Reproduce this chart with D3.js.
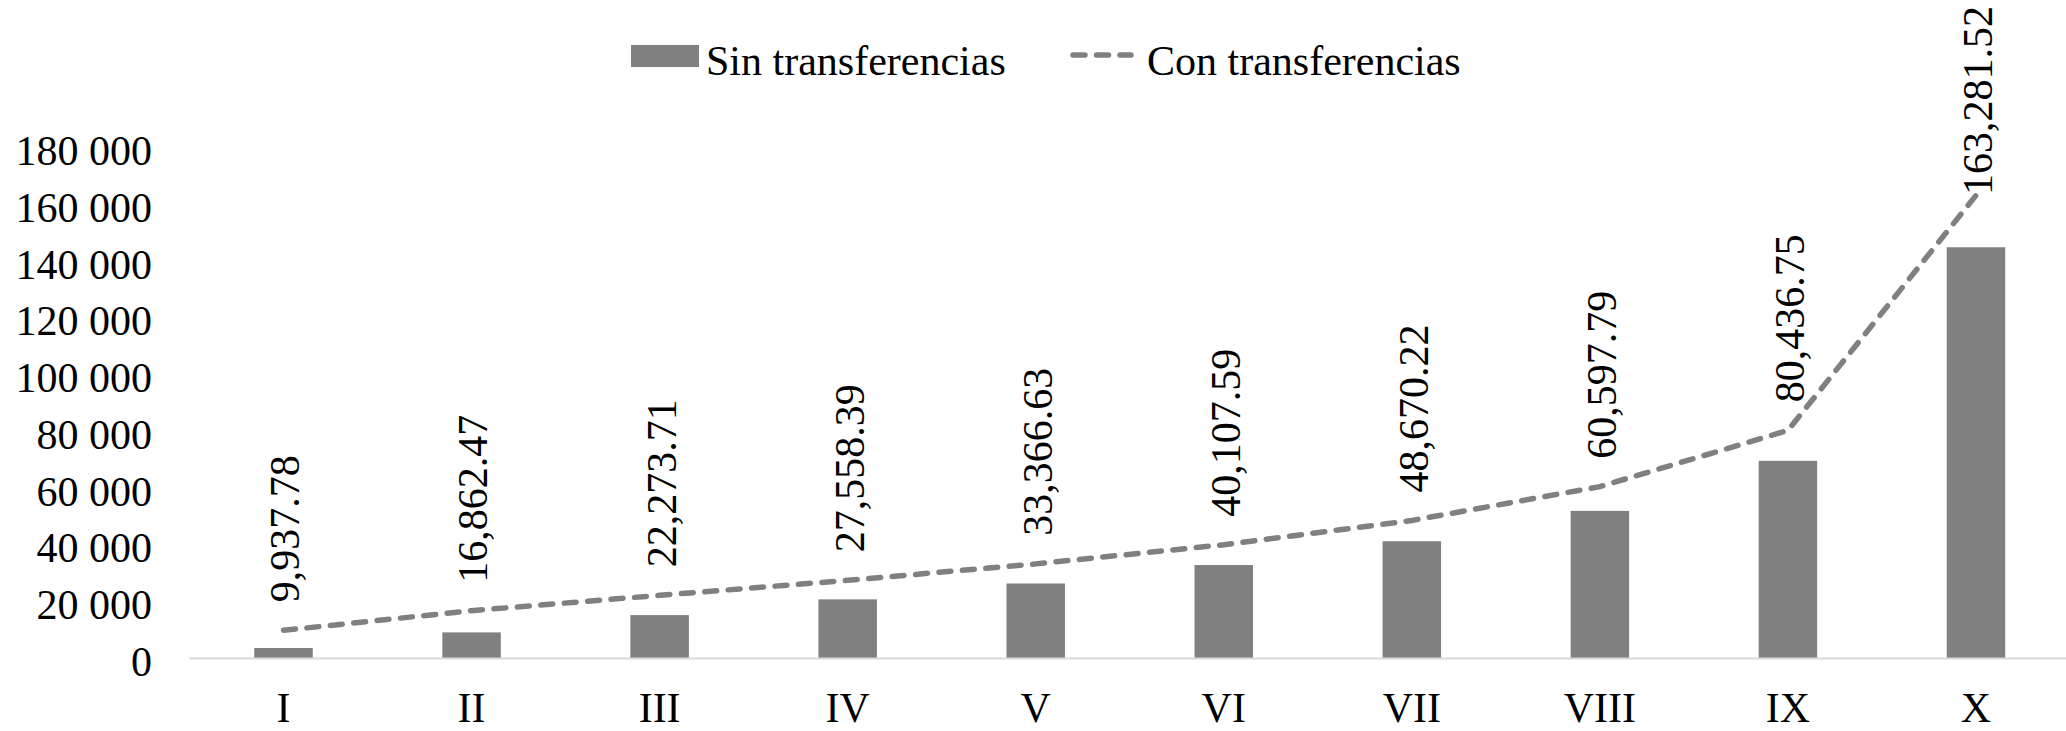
<!DOCTYPE html>
<html>
<head>
<meta charset="utf-8">
<script src="https://cdn.jsdelivr.net/npm/d3@7"></script>
<style>
  html, body { margin: 0; padding: 0; background: #fff; }
  svg { display: block; }
  svg text { font-family: 'Liberation Serif', 'Times New Roman', Times, 'DejaVu Serif', serif !important; fill: #000; }
</style>
</head>
<body>
<svg id="chart" width="2066" height="731"></svg>
<script>
const categories = ["I", "II", "III", "IV", "V", "VI", "VII", "VIII", "IX", "X"];
const sinTransferencias = [3700, 9200, 15300, 20850, 26450, 32950, 41350, 52050, 69700, 145000];
const conTransferencias = [9937.78, 16862.47, 22273.71, 27558.39, 33366.63, 40107.59, 48670.22, 60597.79, 80436.75, 163281.52];
const yTicks = [0, 20000, 40000, 60000, 80000, 100000, 120000, 140000, 160000, 180000];
const seriesNames = ["Sin transferencias", "Con transferencias"];

const svg = d3.select("#chart");
const FONT = 42;
const SERIF = "'Liberation Serif', 'Times New Roman', Times, 'DejaVu Serif', serif";
const grey = "#808080";

const x = d3.scaleBand().domain(categories).range([189.5, 2070]).padding(0);
const barW = x.bandwidth() * 0.311;
const y = d3.scaleLinear().domain([0, 180000]).range([658.5, 148]);

// Y axis labels (no line, no ticks)
const yAxis = d3.axisLeft(y).tickValues(yTicks).tickSize(0).tickPadding(0)
  .tickFormat(d => d3.format(",")(d).replace(/,/g, " "));
const gy = svg.append("g").attr("transform", "translate(152,0)").call(yAxis)
  .attr("font-family", SERIF).attr("font-size", FONT);
gy.select(".domain").remove();
gy.selectAll("text").attr("font-size", FONT).attr("font-family", SERIF)
  .attr("fill", "#000").attr("dy", "0.4em").attr("x", 0);

// Bars
svg.append("g").selectAll("rect").data(categories).join("rect")
  .attr("x", d => x(d) + x.bandwidth() / 2 - barW / 2)
  .attr("width", barW)
  .attr("y", (d, i) => y(sinTransferencias[i]))
  .attr("height", (d, i) => y(0) - y(sinTransferencias[i]))
  .attr("fill", grey);

// X axis line + labels
const xAxis = d3.axisBottom(x).tickSize(0).tickPadding(0);
const gx = svg.append("g").attr("transform", `translate(0,${y(0)})`).call(xAxis)
  .attr("font-family", SERIF).attr("font-size", FONT);
gx.select(".domain").attr("stroke", "#d9d9d9").attr("stroke-width", 2)
  .attr("d", `M189.5,0H2066`);
gx.selectAll("text").attr("font-size", FONT).attr("font-family", SERIF)
  .attr("fill", "#000").attr("y", 63).attr("dy", 0);

// Dashed line
const lineData = categories.map((c, i) => [x(c) + x.bandwidth() / 2, y(conTransferencias[i])]);
svg.append("path").datum(lineData)
  .attr("d", d3.line())
  .attr("fill", "none").attr("stroke", grey).attr("stroke-width", 5.5)
  .attr("stroke-linecap", "round").attr("stroke-linejoin", "round")
  .attr("stroke-dasharray", "12,11.5");

// Data labels (rotated)
const fmt = d3.format(",.2f");
svg.append("g").attr("font-family", SERIF).selectAll("text").data(categories).join("text")
  .attr("transform", (c, i) => {
    const px = x(c) + x.bandwidth() / 2 + 2;
    const label = fmt(conTransferencias[i]);
    const len = label.length * 0.5 * FONT - 0.25 * FONT * 2;
    let py = y(conTransferencias[i]) - 28;
    if (py - len < 6) py = 6 + len;
    return `translate(${px},${py}) rotate(-90)`;
  })
  .attr("dy", "0.33em")
  .attr("font-size", FONT)
  .attr("font-family", SERIF)
  .text((c, i) => fmt(conTransferencias[i]));

// Legend
const lg = svg.append("g").attr("font-family", SERIF);
lg.append("rect").attr("x", 631).attr("y", 45).attr("width", 68).attr("height", 22).attr("fill", grey);
lg.append("text").attr("x", 706).attr("y", 75).attr("font-size", FONT).attr("font-family", SERIF).text(seriesNames[0]);
lg.append("path").attr("d", "M1073,55H1131")
  .attr("stroke", grey).attr("stroke-width", 5.5).attr("stroke-linecap", "round")
  .attr("stroke-dasharray", "12,11.5").attr("fill", "none");
lg.append("text").attr("x", 1147).attr("y", 75).attr("font-size", FONT).attr("font-family", SERIF).text(seriesNames[1]);
</script>
</body>
</html>
